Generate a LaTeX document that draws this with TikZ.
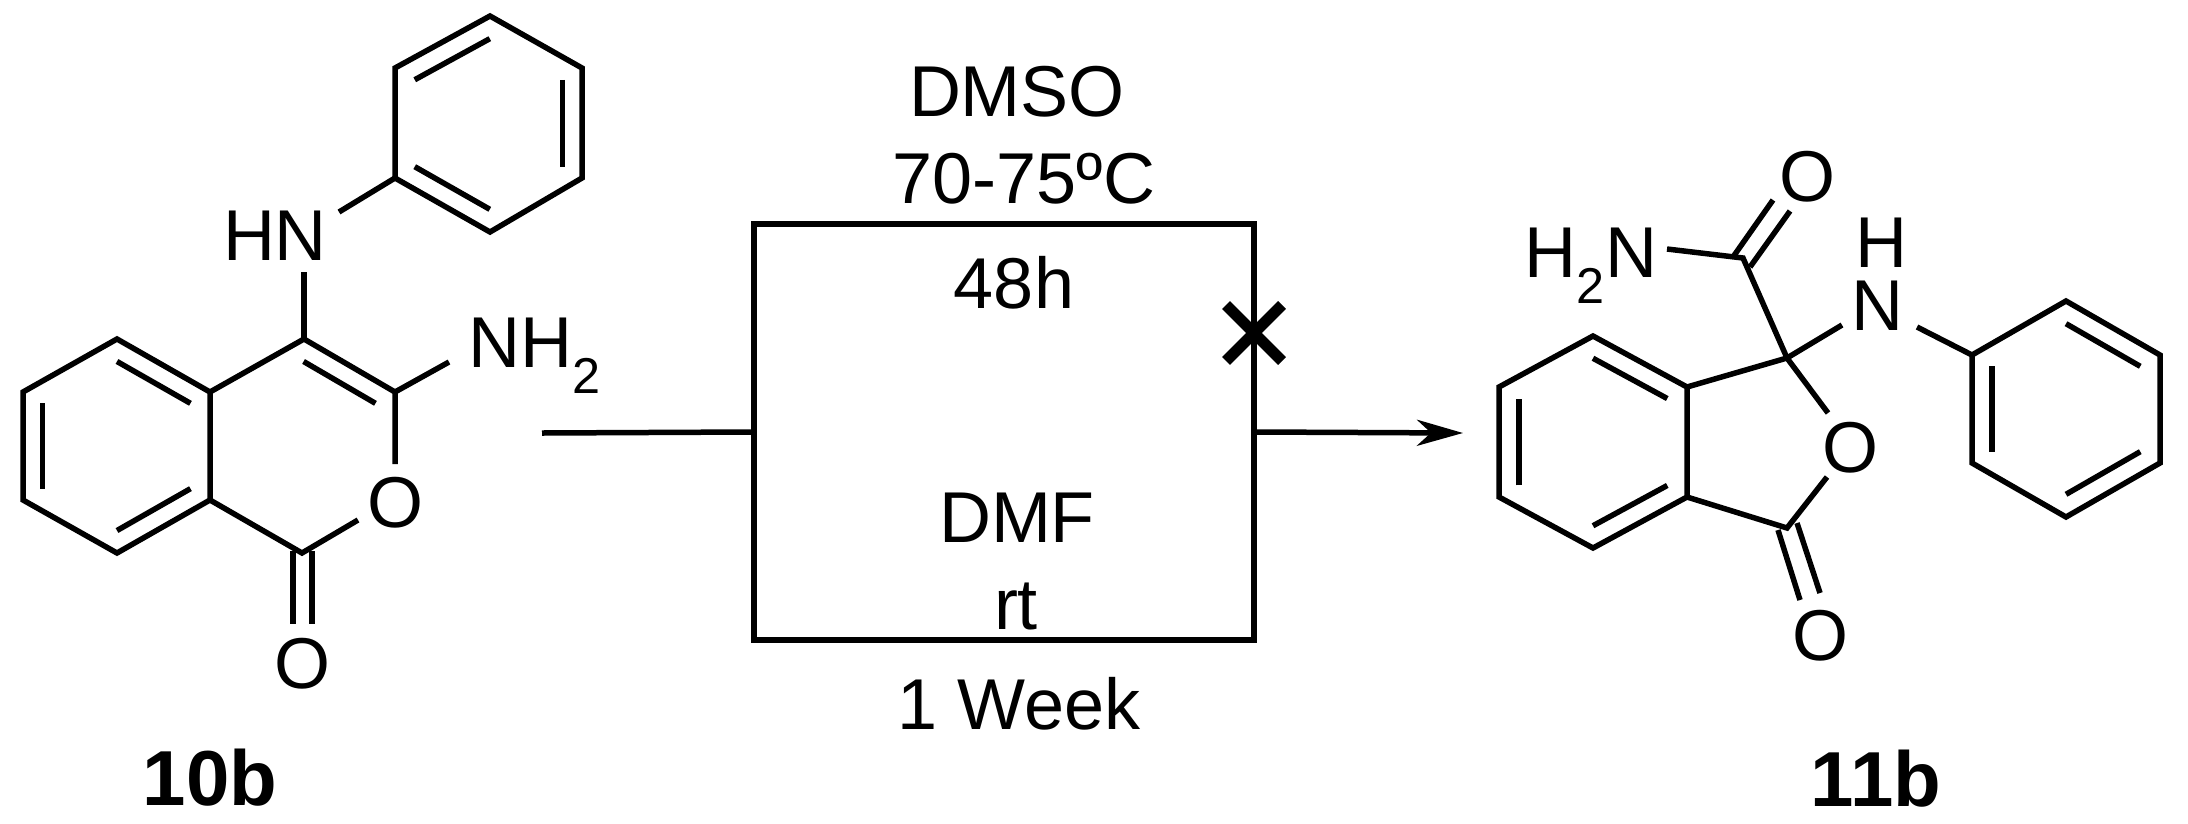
\documentclass[tikz,border=0pt]{standalone}
\usepackage{fontspec}
\setmainfont{Liberation Sans}
\usetikzlibrary{calc,arrows.meta}
\begin{document}
\begin{tikzpicture}[x=1pt,y=-1pt,line width=5.5pt,line cap=butt,line join=miter,
  lbl/.style={anchor=base,inner sep=0pt,font=\fontsize{72}{80}\selectfont},
  cmp/.style={anchor=base,inner sep=0pt,font=\fontsize{78}{86}\selectfont\bfseries},
  bond/.style={line width=5.5pt}]
\useasboundingbox (0,0) rectangle (2188,823);
\newcommand{\inner}[3]{\draw[bond] ($(#1)!0.21!(#3)$) -- ($(#2)!0.21!(#3)$);}
% ---------- 10b ----------
\coordinate (p1) at (490,16); \coordinate (p2) at (582,68); \coordinate (p3) at (582,178);
\coordinate (p4) at (490,232); \coordinate (p5) at (395,178); \coordinate (p6) at (395,68);
\coordinate (pc) at (489,124);
\draw[bond] (p1)--(p2)--(p3)--(p4)--(p5)--(p6)--cycle;
\inner{p1}{p6}{pc} \inner{p2}{p3}{pc} \inner{p5}{p4}{pc}
\coordinate (b1) at (117,339); \coordinate (b2) at (210,392); \coordinate (b3) at (210,500);
\coordinate (b4) at (117,553); \coordinate (b5) at (23,500); \coordinate (b6) at (23,392);
\coordinate (bc) at (117,446);
\draw[bond] (b1)--(b2)--(b3)--(b4)--(b5)--(b6)--cycle;
\inner{b1}{b2}{bc} \inner{b5}{b6}{bc} \inner{b3}{b4}{bc}
\coordinate (c4) at (304,339); \coordinate (c3) at (395,392); \coordinate (c1) at (302,553);
\coordinate (rc) at (302,446);
\draw[bond] (b2)--(c4)--(c3)--(395,464);
\inner{c4}{c3}{rc}
\draw[bond] (b3)--(c1)--(358,520);
\draw[bond] (293,551)--(293,624) (312,551)--(312,624);
\draw[bond] (c4)--(304,272);
\draw[bond] (339,212)--(p5);
\draw[bond] (c3)--(449,362);
\node[lbl] (hn) at (275,260) {HN};
\node[lbl,anchor=base west] (nh2) at (466,367) {NH\textsubscript{2}};
\node[lbl] (o1) at (395,527) {O};
\node[lbl] (o2) at (302,688) {O};
\node[cmp] (l10b) at (210,805) {10b};
% ---------- conditions ----------
\coordinate (s0) at (542,433);
\node[draw,line width=5.5pt,minimum width=500pt,minimum height=416pt,inner sep=0pt] (box) at (1004,432) {};
\draw (s0) -- (box.west);
\coordinate (e0) at (1463,433);
\draw[-{Stealth[length=46pt,width=26pt,inset=14pt]}] (box.east) -- (e0);
\coordinate (x0) at (1254,333);
\draw[line width=11pt] ($(x0)+(-28,-28)$) -- ($(x0)+(28,28)$) ($(x0)+(-28,28)$) -- ($(x0)+(28,-28)$);
\node[lbl] (t1) at (1017,116) {DMSO};
\node[lbl] (t2) at (1024,203) {70-75ºC};
\node[lbl] (t3) at (1014,308) {48h};
\node[lbl] (t4) at (1017,542) {DMF};
\node[lbl] (t5) at (1016,629) {rt};
\node[lbl] (t6) at (1019,729) {1 Week};
% ---------- 11b ----------
\coordinate (q1) at (1593,336); \coordinate (q2) at (1687,387); \coordinate (q3) at (1687,497);
\coordinate (q4) at (1593,548); \coordinate (q5) at (1499,497); \coordinate (q6) at (1499,387);
\coordinate (qc) at (1593,442);
\draw[bond] (q1)--(q2)--(q3)--(q4)--(q5)--(q6)--cycle;
\inner{q1}{q2}{qc} \inner{q5}{q6}{qc} \inner{q3}{q4}{qc}
\coordinate (cq) at (1787,358); \coordinate (cc) at (1787,528); \coordinate (ca) at (1743,258);
\draw[bond] (q2)--(cq)--(1828,413);
\draw[bond] (q3)--(cc)--(1827,477);
\draw[bond] (1778,530)--(1800,600) (1797,523)--(1820,593);
\draw[bond] (cq)--(ca)--(1667,249);
\draw[bond] (1733,257)--(1773,200) (1750,267)--(1790,211);
\draw[bond] (cq)--(1842,325);
\coordinate (r1) at (1972,355); \coordinate (r2) at (2066,301); \coordinate (r3) at (2160,355);
\coordinate (r4) at (2160,463); \coordinate (r5) at (2066,517); \coordinate (r6) at (1972,463);
\coordinate (rcc) at (2066,409);
\draw[bond] (r1)--(r2)--(r3)--(r4)--(r5)--(r6)--cycle;
\inner{r2}{r3}{rcc} \inner{r1}{r6}{rcc} \inner{r4}{r5}{rcc}
\draw[bond] (1917,327)--(r1);
\node[lbl,anchor=base east] (h2n) at (1660,277) {H\textsubscript{2}N};
\node[lbl] (o3) at (1807,201) {O};
\node[lbl] (n2) at (1877,330) {N};
\node[lbl] (h2) at (1881,267) {H};
\node[lbl] (o4) at (1850,472) {O};
\node[lbl] (o5) at (1820,660) {O};
\node[cmp] (l11b) at (1876,806) {11b};
\end{tikzpicture}
\end{document}
